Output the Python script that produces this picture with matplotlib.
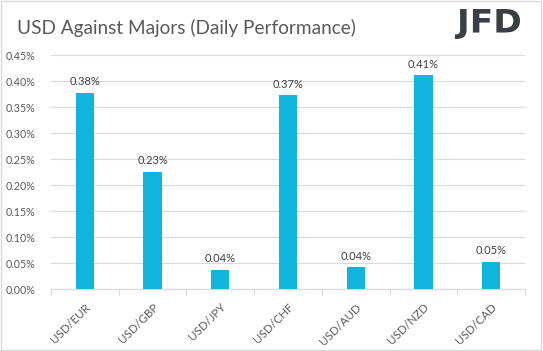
import matplotlib
matplotlib.use("Agg")
import matplotlib.pyplot as plt
from matplotlib.patches import Rectangle, PathPatch
from matplotlib.textpath import TextPath
from matplotlib.font_manager import FontProperties
from matplotlib.transforms import Affine2D, IdentityTransform
from matplotlib.ticker import FuncFormatter, MultipleLocator

PAIRS = ["USD/EUR", "USD/GBP", "USD/JPY", "USD/CHF", "USD/AUD", "USD/NZD", "USD/CAD"]
CHANGE_PCT = [0.378, 0.226, 0.037, 0.373, 0.042, 0.411, 0.052]
VALUE_LABELS = ["0.38%", "0.23%", "0.04%", "0.37%", "0.04%", "0.41%", "0.05%"]

BAR_COLOR = "#0FB5DD"
TEXT_COLOR = "#595959"
GRID_COLOR = "#D9D9D9"

plt.rcParams["font.family"] = ["Lato", "DejaVu Sans"]

fig = plt.figure(figsize=(5.43, 3.51), dpi=100)
ax = fig.add_axes([0.094, 0.1765, 0.873, 0.6665])

x = list(range(len(PAIRS)))
ax.bar(x, CHANGE_PCT, width=0.27, color=BAR_COLOR, zorder=3)

for xi, v, lab in zip(x, CHANGE_PCT, VALUE_LABELS):
    ax.annotate(lab, (xi, v), xytext=(0, 4), textcoords="offset points",
                ha="center", va="bottom", fontsize=8, color="#404040")

ax.set_xlim(-0.5, len(PAIRS) - 0.5)
ax.set_ylim(0, 0.45)
ax.yaxis.set_major_locator(MultipleLocator(0.05))
ax.yaxis.set_major_formatter(FuncFormatter(lambda v, p: f"{v:.2f}%"))
ax.grid(axis="y", color=GRID_COLOR, linewidth=0.8, zorder=0)

for s in ["top", "right", "left"]:
    ax.spines[s].set_visible(False)
ax.spines["bottom"].set_color(GRID_COLOR)
ax.spines["bottom"].set_linewidth(0.8)

ax.tick_params(axis="y", length=0, pad=11, labelsize=7.7, labelcolor=TEXT_COLOR)
ax.set_xticks(x)
ax.set_xticklabels(PAIRS, rotation=45, ha="right", rotation_mode="anchor")
ax.tick_params(axis="x", length=0, pad=9, labelsize=8.3, labelcolor=TEXT_COLOR)
# category boundary ticks
ax.set_xticks([i - 0.5 for i in range(len(PAIRS) + 1)], minor=True)
ax.tick_params(axis="x", which="minor", length=4, color=GRID_COLOR, width=0.8)

fig.text(0.031, 0.919, "USD Against Majors (Daily Performance)", fontsize=13.7,
         color=TEXT_COLOR, ha="left", va="center")

# JFD logo: bold glyphs squeezed into the logo box (pixel coords)
tp = TextPath((0, 0), "JFD", size=40,
              prop=FontProperties(family="DejaVu Sans", weight="bold"))
ext = tp.get_extents()
x0, x1, y0, y1 = 455, 520, 351 - 39, 351 - 9
tr = (Affine2D().translate(-ext.x0, -ext.y0)
      .scale((x1 - x0) / ext.width, (y1 - y0) / ext.height)
      .translate(x0, y0))
fig.patches.append(PathPatch(tr.transform_path(tp), transform=IdentityTransform(),
                             facecolor="#3A3F45", edgecolor="none"))

fig.patches.append(Rectangle((0.002, 0.004), 0.994, 0.992, transform=fig.transFigure,
                             fill=False, edgecolor=GRID_COLOR, linewidth=1))

fig.savefig("out.png", dpi=100)
